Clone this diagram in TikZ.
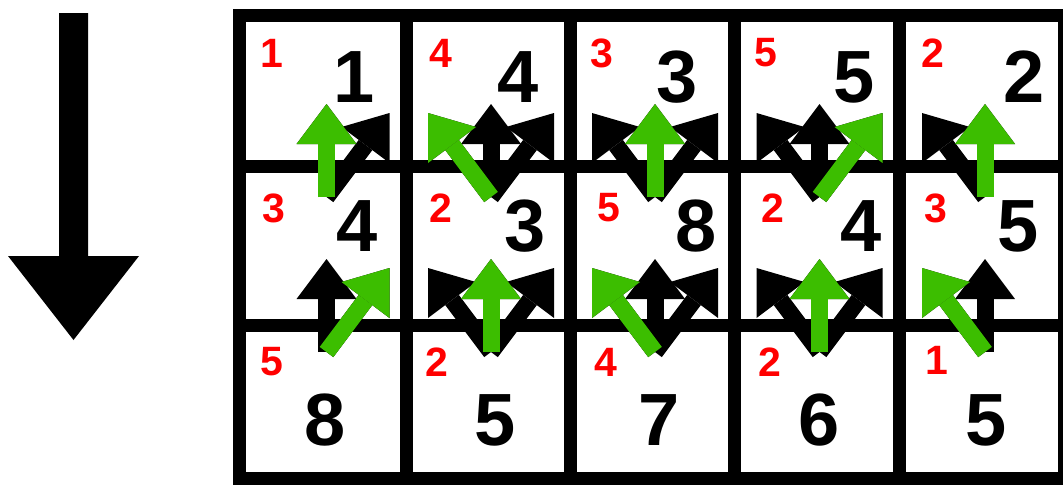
\documentclass[tikz,border=0pt]{standalone}
\usepackage{fontspec}
\setmainfont{Liberation Sans}
\usetikzlibrary{arrows.meta}
\definecolor{pgreen}{RGB}{60,190,0}
\definecolor{pred}{RGB}{255,0,0}
\begin{document}
\begin{tikzpicture}[x=1pt,y=-1pt,
  gridline/.style={line width=13pt, line join=miter},
  bignum/.style={inner sep=0pt, font=\fontsize{74}{80}\selectfont\bfseries},
  smallnum/.style={inner sep=0pt, text=pred, font=\fontsize{41}{45}\selectfont\bfseries},
  option/.style={line width=17pt, black, -{Triangle[width=60pt,length=40pt,line width=0pt]}},
  choice/.style={line width=17pt, pgreen, -{Triangle[width=60pt,length=40pt,line width=0pt]}}
]
\useasboundingbox (0,0) rectangle (1063,485);
% direction arrow
\fill (59,13) -- (88,13) -- (88,256) -- (139,256) -- (73.5,340) -- (8,256) -- (59,256) -- cycle;
% grid
\draw[gridline] (239.5,15.5) rectangle (1064,478.5);
\foreach \x in {406,570,734,899.5} \draw[gridline] (\x,15.5) -- (\x,478.5);
\foreach \y in {166.5,325.5} \draw[gridline] (239.5,\y) -- (1064,\y);
% arrow anchor points
\foreach \c/\ox in {1/326.5,2/491,3/655,4/819.5,5/985} {
  \foreach \r/\oy in {2/197,3/352} {
    \coordinate (o-\r-\c) at (\ox,\oy);
    \coordinate (u-\r-\c) at (\ox,\oy-93);
    \coordinate (l-\r-\c) at (\ox-63,\oy-84);
    \coordinate (r-\r-\c) at (\ox+63,\oy-84);
  }
}
% candidate predecessors
\foreach \r in {2,3} {
  \foreach \c in {1,...,5} \draw[option] (o-\r-\c) -- (u-\r-\c);
  \foreach \c in {2,...,5} \draw[option] (o-\r-\c) -- (l-\r-\c);
  \foreach \c in {1,...,4} \draw[option] (o-\r-\c) -- (r-\r-\c);
}
% chosen predecessors
\foreach \d/\r/\c in {u/2/1,l/2/2,u/2/3,r/2/4,u/2/5,r/3/1,u/3/2,l/3/3,u/3/4,l/3/5}
  \draw[choice] (o-\r-\c) -- (\d-\r-\c);
% energies (red)
\foreach \c/\x/\t in {1/271.5/1,2/441/4,3/601.5/3,4/766/5,5/932.5/2}
  \node[smallnum] (e-1-\c) at (\x,53) {\t};
\foreach \c/\x/\t in {1/274/3,2/441/2,3/609/5,4/772.5/2,5/936/3}
  \node[smallnum] (e-2-\c) at (\x,208) {\t};
\foreach \c/\x/\t/\y in {1/272/5/362,2/436.5/2/362,3/606/4/362,4/770/2/362,5/937/1/360}
  \node[smallnum] (e-3-\c) at (\x,\y) {\t};
% cumulative values (black)
\foreach \c/\x/\t in {1/354/1,2/518.5/4,3/677/3,4/854/5,5/1024/2}
  \node[bignum] (m-1-\c) at (\x,77) {\t};
\foreach \c/\x/\t in {1/357/4,2/525/3,3/696.5/8,4/861.5/4,5/1018.5/5}
  \node[bignum] (m-2-\c) at (\x,226) {\t};
\foreach \c/\x/\t in {1/325/8,2/495/5,3/659/7,4/819/6,5/986.5/5}
  \node[bignum] (m-3-\c) at (\x,420) {\t};
\end{tikzpicture}
\end{document}
